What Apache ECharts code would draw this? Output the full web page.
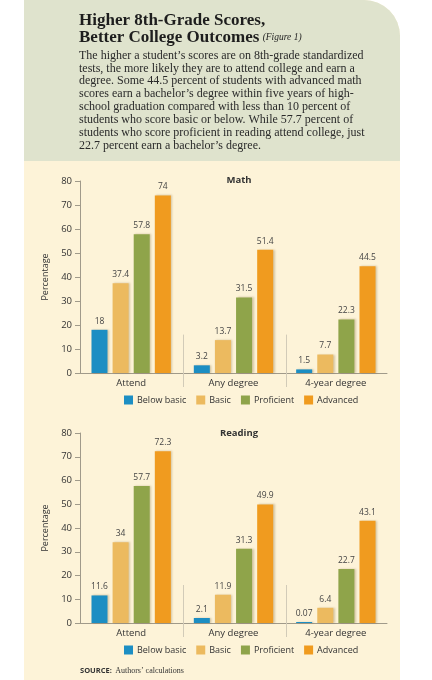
<!DOCTYPE html>
<html>
<head>
<meta charset="utf-8">
<script src="https://cdn.jsdelivr.net/npm/echarts@6/dist/echarts.min.js"></script>
<style>
  html, body { margin: 0; padding: 0; background: #fff; }
  #main { width: 432px; height: 680px; }
</style>
</head>
<body>
<div id="main"></div>
<script>
// data
var categories = ['Attend', 'Any degree', '4-year degree'];
var levels = ['Below basic', 'Basic', 'Proficient', 'Advanced'];
var mathBelowBasic = [18, 3.2, 1.5];
var mathBasic = [37.4, 13.7, 7.7];
var mathProficient = [57.8, 31.5, 22.3];
var mathAdvanced = [74, 51.4, 44.5];
var readBelowBasic = [11.6, 2.1, 0.07];
var readBasic = [34, 11.9, 6.4];
var readProficient = [57.7, 31.3, 22.7];
var readAdvanced = [72.3, 49.9, 43.1];
var yTicks = [0, 10, 20, 30, 40, 50, 60, 70, 80];

var colors = ['#1c8ec3', '#ecba5f', '#8fa44a', '#f09b1f'];
var sans = '"Open Sans", "DejaVu Sans", sans-serif';
var serif = '"Liberation Serif", "DejaVu Serif", serif';

var bodyLines = [
    'The higher a student\u2019s scores are on 8th-grade standardized',
    'tests, the more likely they are to attend college and earn a',
    'degree. Some 44.5 percent of students with advanced math',
    'scores earn a bachelor\u2019s degree within five years of high-',
    'school graduation compared with less than 10 percent of',
    'students who score basic or below. While 57.7 percent of',
    'students who score proficient in reading attend college, just',
    '22.7 percent earn a bachelor\u2019s degree.'
];

var main = document.getElementById('main');
var myChart = echarts.init(main);

function makeSeries(name, data, idx, color) {
    return {
        name: name,
        type: 'bar',
        xAxisIndex: idx,
        yAxisIndex: idx,
        data: data,
        barWidth: 16,
        barGap: '32%',
        barMinHeight: 1,
        itemStyle: {
            color: color,
            shadowColor: 'rgba(90,60,0,0.25)',
            shadowBlur: 2,
            shadowOffsetX: 1.5
        },
        label: {
            show: true,
            position: 'top',
            distance: 4,
            color: '#444',
            fontFamily: sans,
            fontSize: 8.5
        }
    };
}

function xAxisCfg(idx) {
    return {
        type: 'category',
        gridIndex: idx,
        data: categories,
        axisLine: { lineStyle: { color: '#a09a8a', width: 1 } },
        axisTick: { show: false },
        axisLabel: { color: '#333', fontFamily: sans, fontSize: 9.5, margin: 5 }
    };
}

function yAxisCfg(idx) {
    return {
        type: 'value',
        gridIndex: idx,
        min: yTicks[0],
        max: yTicks[yTicks.length - 1],
        interval: 10,
        name: 'Percentage',
        nameLocation: 'middle',
        nameGap: 28,
        nameTextStyle: { color: '#333', fontFamily: sans, fontSize: 9 },
        axisLine: { show: true, lineStyle: { color: '#a09a8a', width: 1 } },
        axisTick: { show: true, length: 5, lineStyle: { color: '#a09a8a' } },
        axisLabel: { color: '#333', fontFamily: sans, fontSize: 9.5, margin: 8 },
        splitLine: { show: false }
    };
}

function legendCfg(top) {
    return {
        data: levels,
        top: top,
        left: 124,
        padding: 0,
        itemWidth: 9,
        itemHeight: 9,
        itemGap: 10,
        icon: 'rect',
        selectedMode: false,
        textStyle: { color: '#333', fontFamily: sans, fontSize: 9, padding: [0, 0, 0, -1] }
    };
}

var graphics = [
    { type: 'rect', z: -10, shape: { x: 24, y: 0, width: 376, height: 680, r: [0, 36, 0, 0] }, style: { fill: '#fdf3d8' } },
    { type: 'rect', z: -9, shape: { x: 24, y: 0, width: 376, height: 161, r: [0, 36, 0, 0] }, style: { fill: '#dfe3cd' } },
    { type: 'text', left: 79, top: 12, style: { text: 'Higher 8th-Grade Scores,', fill: '#1d1d1d', font: 'bold 17px ' + serif } },
    { type: 'text', left: 79, top: 29, style: {
        text: '{b|Better College Outcomes} {i|(Figure 1)}',
        rich: {
            b: { fill: '#1d1d1d', font: 'bold 17px ' + serif },
            i: { fill: '#1d1d1d', font: 'italic 9.5px ' + serif }
        }
    } },
    { type: 'text', left: 79, top: 49, style: { text: bodyLines.join('\n'), fill: '#2a2a2a', font: '12px ' + serif, lineHeight: 12.9 } },
    { type: 'text', left: 80, top: 665, style: {
        text: '{s|SOURCE:} {a|Authors\u2019 calculations}',
        rich: {
            s: { fill: '#333', font: 'bold 7.5px ' + sans },
            a: { fill: '#333', font: '8px ' + serif }
        }
    } }
];

var option = {
    animation: false,
    title: [
        { text: 'Math', left: 234, top: 170, textAlign: 'center', textStyle: { color: '#333', fontFamily: sans, fontSize: 9.5, fontWeight: 'bold' } },
        { text: 'Reading', left: 234, top: 423, textAlign: 'center', textStyle: { color: '#333', fontFamily: sans, fontSize: 9.5, fontWeight: 'bold' } }
    ],
    grid: [
        { left: 80, right: 45, top: 181, height: 192 },
        { left: 80, right: 45, top: 433, height: 190 }
    ],
    legend: [legendCfg(395.5), legendCfg(645.5)],
    xAxis: [xAxisCfg(0), xAxisCfg(1)],
    yAxis: [yAxisCfg(0), yAxisCfg(1)],
    graphic: graphics,
    series: [
        makeSeries(levels[0], mathBelowBasic, 0, colors[0]),
        makeSeries(levels[1], mathBasic, 0, colors[1]),
        makeSeries(levels[2], mathProficient, 0, colors[2]),
        makeSeries(levels[3], mathAdvanced, 0, colors[3]),
        makeSeries(levels[0], readBelowBasic, 1, colors[0]),
        makeSeries(levels[1], readBasic, 1, colors[1]),
        makeSeries(levels[2], readProficient, 1, colors[2]),
        makeSeries(levels[3], readAdvanced, 1, colors[3])
    ]
};

myChart.setOption(option);

// thin separators between the category groups
var seps = [];
[0, 1].forEach(function(idx) {
    var yTop = myChart.convertToPixel({ yAxisIndex: idx }, 16);
    var yBase = myChart.convertToPixel({ yAxisIndex: idx }, 0);
    for (var i = 0; i < categories.length - 1; i++) {
        var a = myChart.convertToPixel({ xAxisIndex: idx }, categories[i]);
        var b = myChart.convertToPixel({ xAxisIndex: idx }, categories[i + 1]);
        var x = Math.round((a + b) / 2) + 1.5;
        seps.push({
            type: 'line',
            z: 5,
            shape: { x1: x, y1: yTop, x2: x, y2: yBase + 14 },
            style: { stroke: '#d2cbb8', lineWidth: 1 }
        });
    }
});
myChart.setOption({ graphic: graphics.concat(seps) });
</script>
</body>
</html>
